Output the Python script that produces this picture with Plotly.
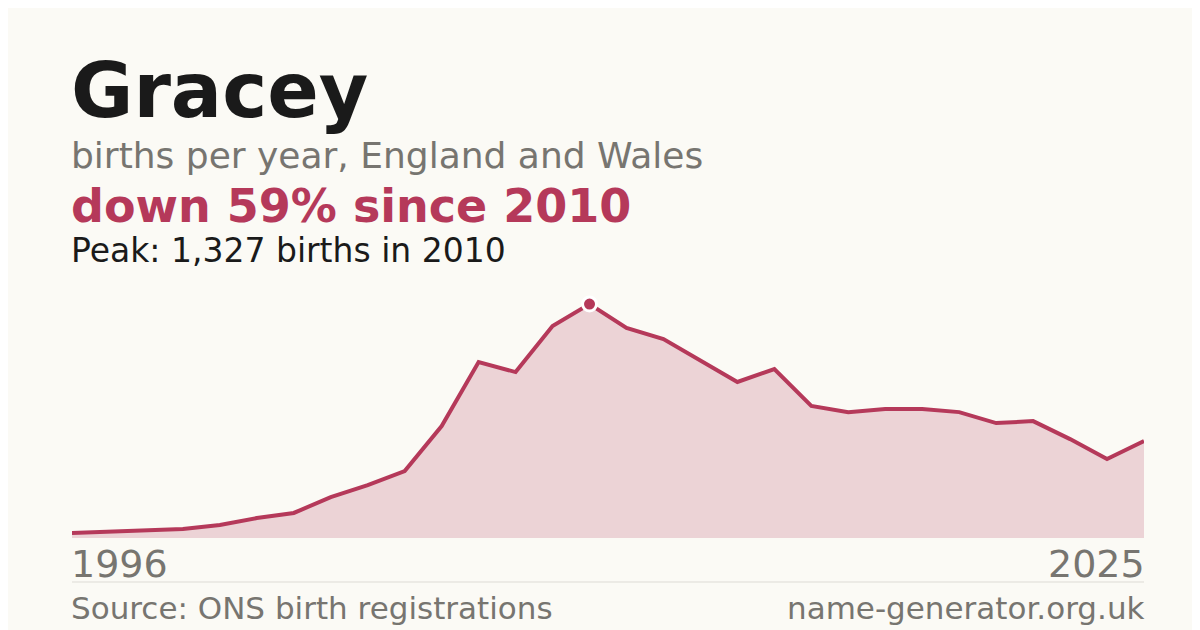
import plotly.graph_objects as go

years = list(range(1996, 2026))
births = [28, 34, 40, 51, 74, 113, 142, 232, 300, 380, 635, 998, 941, 1202, 1327,
          1191, 1128, 1004, 885, 958, 749, 714, 731, 731, 714, 652, 663, 561, 448, 550]
peak_year = 2010
peak_value = 1327

red = "#b5395a"
grey = "#777570"
bg = "#fbfaf5"

# plot area in page pixels
L, R, T, B = 64, 1136, 280, 530


def px(x):
    return (x - L) / (R - L)


def py(y):
    return (B - y) / (B - T)


fig = go.Figure()
fig.add_trace(go.Scatter(
    x=years, y=births, mode="lines",
    line=dict(color=red, width=4),
    fill="tozeroy", fillcolor="rgba(181,57,90,0.2)",
    hoverinfo="skip"))
fig.add_trace(go.Scatter(
    x=[peak_year], y=[peak_value], mode="markers",
    marker=dict(color=red, size=14, line=dict(color="white", width=3)),
    hoverinfo="skip"))

font = "DejaVu Sans"
texts = [
    ("<b>Gracey</b>", 64, 82, 76, "#1a1a1a"),
    ("births per year, England and Wales", 64, 147, 36, grey),
    ("<b>down 59% since 2010</b>", 64, 198, 46, red),
    ("Peak: 1,327 births in 2010", 64, 242, 33, "#1a1a1a"),
    ("1996", 64, 556, 38, grey),
    ("Source: ONS birth registrations", 64, 600, 31, grey),
]
for t, x, y, s, c in texts:
    fig.add_annotation(text=t, x=px(x), y=py(y), xref="paper", yref="paper",
                       xanchor="left", yanchor="middle", showarrow=False,
                       xshift=-3, font=dict(family=font, size=s, color=c))
for t, y, s in [("2025", 556, 38), ("name-generator.org.uk", 600, 31)]:
    fig.add_annotation(text=t, x=px(1136), y=py(y), xref="paper", yref="paper",
                       xanchor="right", yanchor="middle", showarrow=False,
                       xshift=3, font=dict(family=font, size=s, color=grey))

fig.add_shape(type="line", xref="paper", yref="paper",
              x0=0, x1=1, y0=py(574), y1=py(574),
              line=dict(color="#dddbd5", width=1))

fig.update_layout(
    width=1200, height=630,
    margin=dict(l=L, r=1200 - R, t=T, b=630 - B),
    paper_bgcolor=bg, plot_bgcolor=bg,
    showlegend=False,
    xaxis=dict(range=[1996, 2025], visible=False),
    yaxis=dict(range=[0, 1418], visible=False),
)
fig.write_html("out.html")
